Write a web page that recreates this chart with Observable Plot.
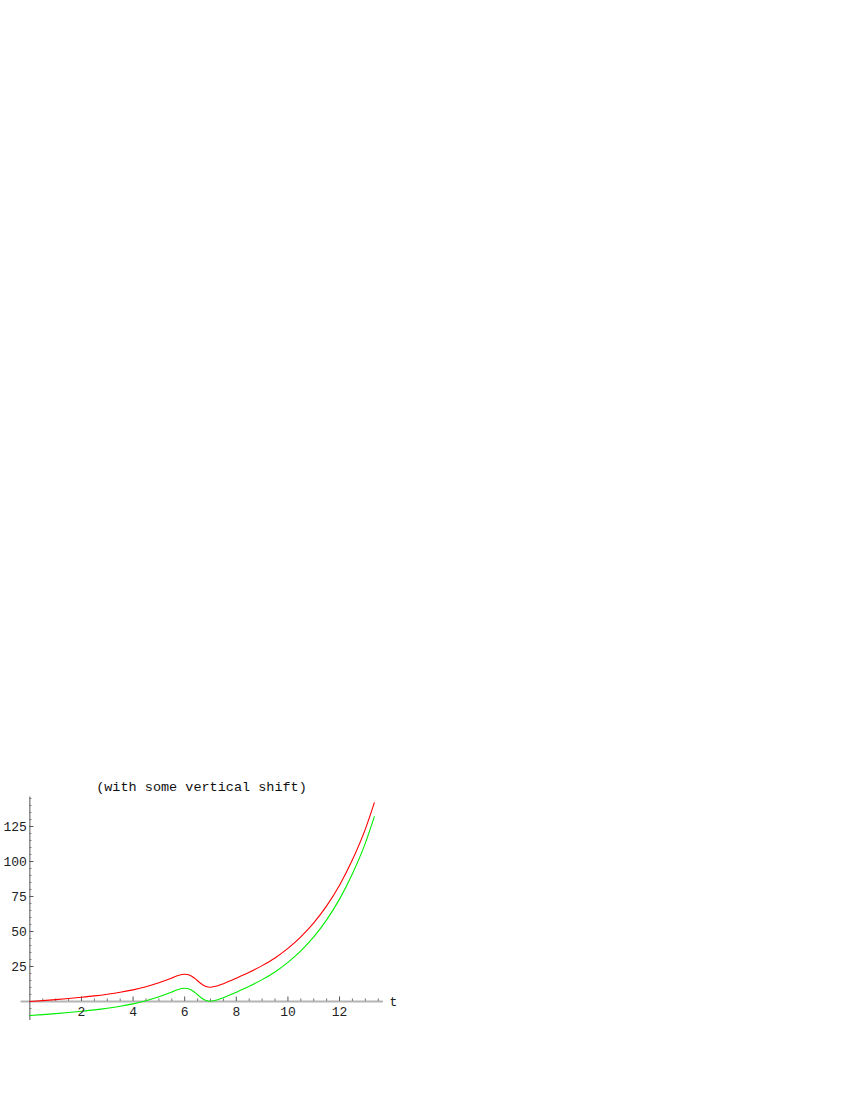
<!DOCTYPE html>
<html>
<head>
<meta charset="utf-8">
<script src="https://cdn.jsdelivr.net/npm/d3@7"></script>
<script src="https://cdn.jsdelivr.net/npm/@observablehq/plot@0.6"></script>
<style>
  html, body { margin: 0; padding: 0; background: #fff; }
  #page { position: relative; width: 850px; height: 1100px; }
  #title { position: absolute; left: 0; top: 780px; width: 403px; text-align: center;
           font-family: "Liberation Mono", "DejaVu Sans Mono", monospace; font-size: 13.5px; color: #111; }
  #chart { position: absolute; left: 0; top: 770px; }
</style>
</head>
<body>
<div id="page">
  <div id="title">(with some vertical shift)</div>
  <div id="chart"></div>
</div>
<script>
// time samples
const tValues = [0, 0.5, 1, 1.5, 2, 2.5, 3, 3.5, 4, 4.5, 5, 5.5, 5.75, 6, 6.2, 6.4, 6.6, 6.8, 7, 7.25, 7.5, 8, 8.5, 9, 9.5, 10, 10.5, 11, 11.5, 12, 12.5, 13, 13.35];
// red curve
const redValues = [0, 0.6, 1.3, 2.1, 3.0, 4.0, 5.2, 6.6, 8.3, 10.5, 13.3, 16.7, 18.6, 19.4, 18.7, 16.3, 13.2, 10.9, 10.2, 11.0, 12.7, 16.6, 20.8, 25.6, 31.1, 37.9, 46.1, 56.1, 68.3, 83.1, 101.2, 123.1, 142];
// green curve
const greenValues = [-10, -9.4, -8.7, -7.9, -7.0, -6.0, -4.8, -3.4, -1.7, 0.5, 3.3, 6.7, 8.6, 9.4, 8.7, 6.3, 3.2, 0.9, 0.2, 1.0, 2.7, 6.6, 10.8, 15.6, 21.1, 27.9, 36.1, 46.1, 58.3, 73.1, 91.2, 113.1, 132];

// ticks
const xMajorTicks = [2, 4, 6, 8, 10, 12];
const xMinorTicks = [0.5, 1, 1.5, 2.5, 3, 3.5, 4.5, 5, 5.5, 6.5, 7, 7.5, 8.5, 9, 9.5, 10.5, 11, 11.5, 12.5, 13, 13.5];
const yMajorTicks = [25, 50, 75, 100, 125];
const yMinorTicks = [-10, -5, 5, 10, 15, 20, 30, 35, 40, 45, 55, 60, 65, 70, 80, 85, 90, 95, 105, 110, 115, 120, 130, 135, 140, 145];
const xLabel = "t";

const xDomain = [-0.34, 13.7];
const yDomain = [-13.6, 146];
const font = "Liberation Mono, DejaVu Sans Mono, monospace";

const plot = Plot.plot({
  width: 420,
  height: 260,
  margin: 0,
  style: { fontFamily: font, fontSize: "13px", color: "#111", background: "transparent", overflow: "visible" },
  x: { domain: xDomain, range: [20.6, 382.9], axis: null },
  y: { domain: yDomain, range: [250.0, 26.6], axis: null },
  marks: [
    // x axis (gray thick line)
    Plot.ruleY([0], { x1: xDomain[0], x2: xDomain[1], stroke: "#b4b4b4", strokeWidth: 2 }),
    // y axis
    Plot.ruleX([0], { y1: yDomain[0], y2: yDomain[1], stroke: "#555", strokeWidth: 1 }),
    // x ticks
    Plot.ruleX(xMajorTicks, { x: d => d, y1: 0, y2: 3.2, stroke: "#555", strokeWidth: 1 }),
    Plot.ruleX(xMinorTicks, { x: d => d, y1: 0, y2: 1.8, stroke: "#777", strokeWidth: 1 }),
    // y ticks
    Plot.ruleY(yMajorTicks, { y: d => d, x1: 0, x2: 0.16, stroke: "#555", strokeWidth: 1 }),
    Plot.ruleY(yMinorTicks, { y: d => d, x1: 0, x2: 0.08, stroke: "#777", strokeWidth: 1 }),
    // curves
    Plot.line(tValues, { x: d => d, y: (d, i) => redValues[i], stroke: "#ff0000", strokeWidth: 1.1, curve: "monotone-x" }),
    Plot.line(tValues, { x: d => d, y: (d, i) => greenValues[i], stroke: "#00ee00", strokeWidth: 1.1, curve: "monotone-x" }),
    // tick labels
    Plot.text(xMajorTicks, { x: d => d, y: 0, dy: 10, text: d => String(d), fill: "#222", fontSize: 13 }),
    Plot.text(yMajorTicks, { x: 0, y: d => d, dx: -3, text: d => String(d), textAnchor: "end", fill: "#222", fontSize: 13 }),
    // axis label
    Plot.text([xLabel], { x: xDomain[1], y: 0, dx: 10, text: d => d, fill: "#222", fontSize: 13 })
  ]
});
document.getElementById("chart").appendChild(plot);
</script>
</body>
</html>
